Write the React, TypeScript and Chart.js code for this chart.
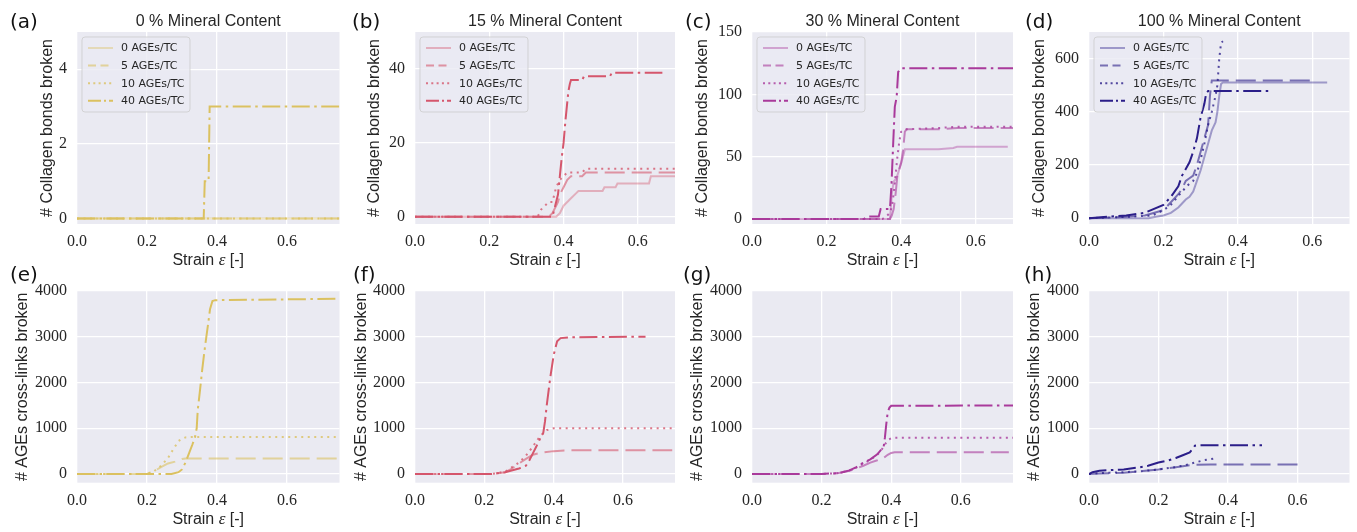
import React, { useEffect, useRef } from "react";
import { Chart, registerables } from "chart.js";
Chart.register(...registerables);

type Pt = [number, number];

// ---------- tick labels / text ----------
const xTicks = [0, 0.2, 0.4, 0.6];
const yTicksM0 = [0, 2, 4];
const yTicksM15 = [0, 20, 40];
const yTicksM30 = [0, 50, 100, 150];
const yTicksM100 = [0, 200, 400, 600];
const yTicksXlinks = [0, 1000, 2000, 3000, 4000];

const seriesLabels = ["0 AGEs/TC", "5 AGEs/TC", "10 AGEs/TC", "40 AGEs/TC"];
const mineralTitles = ["0 % Mineral Content", "15 % Mineral Content", "30 % Mineral Content", "100 % Mineral Content"];
const lettersTop = ["(a)", "(b)", "(c)", "(d)"];
const lettersBottom = ["(e)", "(f)", "(g)", "(h)"];
const yLabelTop = "# Collagen bonds broken";
const yLabelBottom = "# AGEs cross-links broken";

// ---------- data: [strain, count] ----------
// Collagen bonds broken
const bonds_m0_a0: Pt[] = [[0, 0], [0.75, 0]];
const bonds_m0_a5: Pt[] = [[0, 0], [0.75, 0]];
const bonds_m0_a10: Pt[] = [[0, 0], [0.75, 0]];
const bonds_m0_a40: Pt[] = [[0, 0], [0.362, 0], [0.365, 1], [0.376, 1], [0.379, 3], [0.75, 3]];

const bonds_m15_a0: Pt[] = [[0, 0], [0.38, 0], [0.39, 1], [0.40, 3], [0.41, 4], [0.42, 5], [0.43, 6], [0.44, 7], [0.505, 7], [0.51, 8], [0.54, 8], [0.545, 9], [0.63, 9], [0.635, 11], [0.70, 11]];
const bonds_m15_a5: Pt[] = [[0, 0], [0.36, 0], [0.37, 1], [0.38, 3], [0.385, 4], [0.39, 6], [0.40, 8], [0.41, 10], [0.42, 11], [0.45, 11], [0.46, 12], [0.74, 12]];
const bonds_m15_a10: Pt[] = [[0, 0], [0.33, 0], [0.34, 2], [0.36, 4], [0.37, 4], [0.38, 8], [0.39, 10], [0.40, 11], [0.41, 12], [0.45, 12], [0.46, 13], [0.75, 13]];
const bonds_m15_a40: Pt[] = [[0, 0], [0.37, 0], [0.375, 2], [0.38, 4], [0.385, 6], [0.39, 11], [0.395, 16], [0.40, 20], [0.405, 26], [0.41, 31], [0.413, 34], [0.417, 36], [0.42, 37], [0.45, 37], [0.455, 38], [0.525, 38], [0.53, 39], [0.666, 39]];

const bonds_m30_a0: Pt[] = [[0, 0], [0.37, 0], [0.375, 20], [0.38, 30], [0.385, 32], [0.39, 35], [0.395, 40], [0.40, 45], [0.405, 50], [0.41, 56], [0.50, 56], [0.54, 57], [0.55, 58], [0.686, 58]];
const bonds_m30_a5: Pt[] = [[0, 0], [0.37, 0], [0.375, 3], [0.38, 8], [0.385, 20], [0.39, 35], [0.395, 40], [0.40, 45], [0.405, 55], [0.41, 70], [0.415, 72], [0.50, 72], [0.55, 73], [0.74, 73]];
const bonds_m30_a10: Pt[] = [[0, 0], [0.35, 0], [0.36, 2], [0.37, 5], [0.375, 10], [0.38, 20], [0.385, 35], [0.39, 50], [0.395, 62], [0.40, 70], [0.41, 72], [0.50, 73], [0.55, 74], [0.75, 74]];
const bonds_m30_a40: Pt[] = [[0, 0], [0.30, 0], [0.31, 2], [0.34, 2], [0.345, 8], [0.37, 8], [0.374, 27], [0.379, 63], [0.383, 90], [0.388, 98], [0.392, 118], [0.40, 121], [0.75, 121]];

const bonds_m100_a0: Pt[] = [[0, 0], [0.16, 0], [0.18, 5], [0.2, 10], [0.22, 20], [0.24, 40], [0.25, 55], [0.26, 70], [0.27, 80], [0.28, 100], [0.29, 140], [0.30, 180], [0.31, 230], [0.32, 280], [0.33, 330], [0.34, 360], [0.345, 400], [0.35, 460], [0.355, 505], [0.36, 510], [0.64, 510]];
const bonds_m100_a5: Pt[] = [[0, 0], [0.1, 5], [0.15, 10], [0.2, 30], [0.22, 60], [0.24, 90], [0.25, 110], [0.26, 140], [0.27, 150], [0.28, 160], [0.29, 200], [0.30, 250], [0.31, 300], [0.32, 350], [0.325, 460], [0.33, 518], [0.61, 518]];
const bonds_m100_a10: Pt[] = [[0, 0], [0.1, 5], [0.17, 10], [0.2, 30], [0.22, 50], [0.25, 100], [0.27, 130], [0.28, 140], [0.29, 170], [0.30, 220], [0.31, 280], [0.32, 350], [0.33, 400], [0.34, 460], [0.345, 500], [0.35, 600], [0.355, 660], [0.36, 665]];
const bonds_m100_a40: Pt[] = [[0, 0], [0.05, 5], [0.1, 10], [0.15, 20], [0.2, 50], [0.22, 80], [0.24, 120], [0.25, 160], [0.27, 210], [0.28, 250], [0.29, 300], [0.30, 380], [0.31, 430], [0.315, 470], [0.32, 478], [0.49, 478]];

// AGEs cross-links broken (no AGEs cross-links exist for 0 AGEs/TC)
const xlinks_m0_a5: Pt[] = [[0, 0], [0.2, 0], [0.22, 60], [0.24, 150], [0.26, 230], [0.28, 270], [0.29, 300], [0.30, 330], [0.31, 340], [0.75, 340]];
const xlinks_m0_a10: Pt[] = [[0, 0], [0.2, 0], [0.22, 60], [0.24, 180], [0.26, 350], [0.27, 480], [0.28, 600], [0.29, 720], [0.30, 770], [0.31, 800], [0.33, 810], [0.75, 810]];
const xlinks_m0_a40: Pt[] = [[0, 0], [0.27, 0], [0.29, 40], [0.30, 100], [0.31, 250], [0.32, 450], [0.33, 650], [0.337, 800], [0.342, 1000], [0.345, 1400], [0.351, 1800], [0.358, 2300], [0.366, 2800], [0.375, 3300], [0.38, 3600], [0.387, 3780], [0.395, 3800], [0.75, 3830]];

const xlinks_m15_a5: Pt[] = [[0, 0], [0.22, 0], [0.26, 40], [0.28, 120], [0.30, 230], [0.32, 330], [0.34, 420], [0.36, 460], [0.40, 500], [0.45, 520], [0.742, 520]];
const xlinks_m15_a10: Pt[] = [[0, 0], [0.22, 0], [0.26, 50], [0.28, 150], [0.30, 250], [0.32, 400], [0.34, 600], [0.36, 820], [0.38, 960], [0.40, 1000], [0.75, 1000]];
const xlinks_m15_a40: Pt[] = [[0, 0], [0.22, 0], [0.26, 40], [0.30, 120], [0.32, 180], [0.33, 300], [0.34, 450], [0.35, 600], [0.36, 760], [0.37, 900], [0.375, 1150], [0.38, 1500], [0.39, 2100], [0.40, 2600], [0.41, 2900], [0.42, 2970], [0.45, 2990], [0.665, 3000]];

const xlinks_m30_a5: Pt[] = [[0, 0], [0.2, 0], [0.25, 20], [0.28, 70], [0.30, 120], [0.32, 180], [0.34, 250], [0.36, 300], [0.37, 330], [0.38, 360], [0.39, 420], [0.40, 460], [0.41, 475], [0.738, 475]];
const xlinks_m30_a10: Pt[] = [[0, 0], [0.2, 0], [0.25, 20], [0.28, 80], [0.30, 140], [0.32, 230], [0.34, 310], [0.36, 420], [0.37, 500], [0.38, 620], [0.39, 740], [0.40, 780], [0.41, 790], [0.75, 790]];
const xlinks_m30_a40: Pt[] = [[0, 0], [0.2, 0], [0.25, 20], [0.28, 80], [0.30, 150], [0.32, 250], [0.34, 320], [0.36, 430], [0.37, 520], [0.378, 580], [0.382, 800], [0.386, 1100], [0.39, 1350], [0.395, 1450], [0.40, 1490], [0.75, 1500]];

const xlinks_m100_a5: Pt[] = [[0, 0], [0.03, 10], [0.06, 20], [0.1, 30], [0.15, 60], [0.2, 100], [0.25, 150], [0.28, 180], [0.30, 200], [0.35, 210], [0.62, 210]];
const xlinks_m100_a10: Pt[] = [[0, 0], [0.03, 20], [0.06, 30], [0.1, 40], [0.15, 60], [0.2, 100], [0.25, 150], [0.28, 200], [0.30, 240], [0.33, 300], [0.369, 350]];
const xlinks_m100_a40: Pt[] = [[0, 0], [0.01, 40], [0.03, 70], [0.07, 90], [0.1, 100], [0.14, 140], [0.17, 180], [0.2, 250], [0.23, 300], [0.25, 350], [0.27, 410], [0.29, 470], [0.30, 560], [0.305, 620], [0.32, 630], [0.498, 630]];

// ---------- styles / layout ----------
const W = 1357;
const H = 532;
const Y_AXIS_W = 50;
const X_AXIS_H = 30;
const colLeft = [77, 415, 752, 1089];
const colRight = [339.5, 675, 1013, 1349.5];
const rowTop = [32, 291];
const rowBottom = [224, 482.7];
const yLabelXTop = [48, 375, 703, 1040];
const yLabelXBottom = [23, 362, 698, 1035];
const letterXTop = [10, 352, 685, 1025];
const letterXBottom = [10, 353, 683, 1024];
const letterBaseline = [28, 281];

const baseColors = ["#dbc160", "#d5566c", "#a93a9b", "#2b1e89"];
const alphas = [0.4, 0.6, 0.8, 1.0];
const chartDash: number[][] = [[], [20, 7], [2, 4.5], [18, 4.5, 2.5, 4.5]];
const legendDash: number[][] = [[], [8, 4.5], [2, 3.3], [13, 3, 2, 3]];
const TEXT = "#262626";

function rgba(hex: string, a: number) {
  const n = parseInt(hex.slice(1), 16);
  return `rgba(${(n >> 16) & 255},${(n >> 8) & 255},${n & 255},${a})`;
}

interface Panel {
  row: number;
  col: number;
  letter: string;
  title: string | null;
  yLabel: string;
  yLabelX: number;
  letterX: number;
  xMax: number;
  yMin: number;
  yMax: number;
  yTicks: number[];
  series: (Pt[] | null)[];
  legend: boolean;
}

const PANELS: Panel[] = [
  { row: 0, col: 0, letter: lettersTop[0], title: mineralTitles[0], yLabel: yLabelTop, yLabelX: yLabelXTop[0], letterX: letterXTop[0], xMax: 0.75, yMin: -0.15, yMax: 5, yTicks: yTicksM0, series: [bonds_m0_a0, bonds_m0_a5, bonds_m0_a10, bonds_m0_a40], legend: true },
  { row: 0, col: 1, letter: lettersTop[1], title: mineralTitles[1], yLabel: yLabelTop, yLabelX: yLabelXTop[1], letterX: letterXTop[1], xMax: 0.7, yMin: -1.95, yMax: 50, yTicks: yTicksM15, series: [bonds_m15_a0, bonds_m15_a5, bonds_m15_a10, bonds_m15_a40], legend: true },
  { row: 0, col: 2, letter: lettersTop[2], title: mineralTitles[2], yLabel: yLabelTop, yLabelX: yLabelXTop[2], letterX: letterXTop[2], xMax: 0.7, yMin: -4, yMax: 150, yTicks: yTicksM30, series: [bonds_m30_a0, bonds_m30_a5, bonds_m30_a10, bonds_m30_a40], legend: true },
  { row: 0, col: 3, letter: lettersTop[3], title: mineralTitles[3], yLabel: yLabelTop, yLabelX: yLabelXTop[3], letterX: letterXTop[3], xMax: 0.7, yMin: -22, yMax: 700, yTicks: yTicksM100, series: [bonds_m100_a0, bonds_m100_a5, bonds_m100_a10, bonds_m100_a40], legend: true },
  { row: 1, col: 0, letter: lettersBottom[0], title: null, yLabel: yLabelBottom, yLabelX: yLabelXBottom[0], letterX: letterXBottom[0], xMax: 0.75, yMin: -190, yMax: 4000, yTicks: yTicksXlinks, series: [null, xlinks_m0_a5, xlinks_m0_a10, xlinks_m0_a40], legend: false },
  { row: 1, col: 1, letter: lettersBottom[1], title: null, yLabel: yLabelBottom, yLabelX: yLabelXBottom[1], letterX: letterXBottom[1], xMax: 0.75, yMin: -190, yMax: 4000, yTicks: yTicksXlinks, series: [null, xlinks_m15_a5, xlinks_m15_a10, xlinks_m15_a40], legend: false },
  { row: 1, col: 2, letter: lettersBottom[2], title: null, yLabel: yLabelBottom, yLabelX: yLabelXBottom[2], letterX: letterXBottom[2], xMax: 0.75, yMin: -190, yMax: 4000, yTicks: yTicksXlinks, series: [null, xlinks_m30_a5, xlinks_m30_a10, xlinks_m30_a40], legend: false },
  { row: 1, col: 3, letter: lettersBottom[3], title: null, yLabel: yLabelBottom, yLabelX: yLabelXBottom[3], letterX: letterXBottom[3], xMax: 0.75, yMin: -190, yMax: 4000, yTicks: yTicksXlinks, series: [null, xlinks_m100_a5, xlinks_m100_a10, xlinks_m100_a40], legend: false },
];

function decorPlugin(p: Panel) {
  const color = baseColors[p.col];
  return {
    id: "decor",
    beforeDraw(chart: any) {
      const { ctx, chartArea: ca } = chart;
      ctx.save();
      ctx.fillStyle = "#EAEAF2";
      ctx.fillRect(ca.left, ca.top, ca.right - ca.left, ca.bottom - ca.top);
      ctx.restore();
    },
    afterDraw(chart: any) {
      const { ctx, chartArea: ca } = chart;
      ctx.save();
      // panel letter
      ctx.fillStyle = "#111";
      ctx.font = '20px "DejaVu Sans"';
      ctx.textAlign = "left";
      ctx.textBaseline = "alphabetic";
      ctx.fillText(p.letter, p.letterX, letterBaseline[p.row]);
      // title
      if (p.title) {
        ctx.fillStyle = TEXT;
        ctx.font = '16px "Liberation Sans"';
        ctx.textAlign = "center";
        ctx.fillText(p.title, (ca.left + ca.right) / 2, ca.top - 6);
      }
      // y label
      ctx.save();
      ctx.translate(p.yLabelX, (ca.top + ca.bottom) / 2);
      ctx.rotate(-Math.PI / 2);
      ctx.fillStyle = TEXT;
      ctx.font = '16px "Liberation Sans"';
      ctx.textAlign = "center";
      ctx.textBaseline = "middle";
      ctx.fillText(p.yLabel, 0, 0);
      ctx.restore();
      // x label: Strain ε [-]
      const parts: [string, string][] = [
        ["Strain ", '16px "Liberation Sans"'],
        ["ε", 'italic 17px "Liberation Serif"'],
        [" [-]", '16px "Liberation Sans"'],
      ];
      let total = 0;
      for (const [t, f] of parts) { ctx.font = f; total += ctx.measureText(t).width; }
      let x = (ca.left + ca.right) / 2 - total / 2;
      const by = ca.bottom + 41;
      ctx.textAlign = "left";
      ctx.textBaseline = "alphabetic";
      ctx.fillStyle = TEXT;
      for (const [t, f] of parts) { ctx.font = f; ctx.fillText(t, x, by); x += ctx.measureText(t).width; }
      // legend
      if (p.legend) {
        const bx = ca.left + 5, bY = ca.top + 5, bw = 108, bh = 75, r = 3;
        ctx.beginPath();
        ctx.moveTo(bx + r, bY);
        ctx.lineTo(bx + bw - r, bY);
        ctx.arcTo(bx + bw, bY, bx + bw, bY + r, r);
        ctx.lineTo(bx + bw, bY + bh - r);
        ctx.arcTo(bx + bw, bY + bh, bx + bw - r, bY + bh, r);
        ctx.lineTo(bx + r, bY + bh);
        ctx.arcTo(bx, bY + bh, bx, bY + bh - r, r);
        ctx.lineTo(bx, bY + r);
        ctx.arcTo(bx, bY, bx + r, bY, r);
        ctx.closePath();
        ctx.fillStyle = "rgba(234,234,242,0.8)";
        ctx.fill();
        ctx.strokeStyle = "rgba(204,204,204,0.8)";
        ctx.lineWidth = 1;
        ctx.stroke();
        for (let k = 0; k < seriesLabels.length; k++) {
          const yy = ca.top + 16 + k * 17.6;
          ctx.beginPath();
          ctx.setLineDash(legendDash[k]);
          ctx.strokeStyle = rgba(color, alphas[k]);
          ctx.lineWidth = 2;
          ctx.moveTo(ca.left + 11, yy);
          ctx.lineTo(ca.left + 36, yy);
          ctx.stroke();
          ctx.setLineDash([]);
          ctx.fillStyle = TEXT;
          ctx.font = '11px "DejaVu Sans"';
          ctx.textBaseline = "middle";
          ctx.fillText(seriesLabels[k], ca.left + 44, yy + 0.5);
        }
      }
      ctx.restore();
    },
  };
}

function makeConfig(p: Panel): any {
  const color = baseColors[p.col];
  const left = colLeft[p.col], right = colRight[p.col];
  const top = rowTop[p.row], bottom = rowBottom[p.row];
  const tickFont = { family: '"Liberation Serif"', size: 16 };
  const datasets: any[] = [];
  p.series.forEach((pts, k) => {
    if (!pts) return;
    datasets.push({
      label: seriesLabels[k],
      data: pts.map(([x, y]) => ({ x, y })),
      borderColor: rgba(color, alphas[k]),
      backgroundColor: rgba(color, alphas[k]),
      borderWidth: 2,
      borderDash: chartDash[k],
      pointRadius: 0,
      tension: 0,
      fill: false,
      order: 3 - k,
    });
  });
  return {
    type: "line",
    data: { datasets },
    options: {
      responsive: false,
      animation: false,
      devicePixelRatio: 1,
      events: [],
      layout: {
        padding: { left: left - Y_AXIS_W, top: top, right: W - right, bottom: H - bottom - X_AXIS_H },
      },
      plugins: { legend: { display: false }, tooltip: { enabled: false }, title: { display: false } },
      scales: {
        x: {
          type: "linear",
          min: 0,
          max: p.xMax,
          afterBuildTicks: (s: any) => { s.ticks = xTicks.map((v) => ({ value: v })); },
          afterFit: (s: any) => { s.height = X_AXIS_H; },
          ticks: { callback: (v: any) => Number(v).toFixed(1), font: tickFont, color: TEXT, padding: 8, maxRotation: 0, autoSkip: false },
          grid: { color: "#ffffff", lineWidth: 1.3, drawTicks: false },
          border: { display: false },
        },
        y: {
          type: "linear",
          min: p.yMin,
          max: p.yMax,
          afterBuildTicks: (s: any) => { s.ticks = p.yTicks.map((v) => ({ value: v })); },
          afterFit: (s: any) => { s.width = Y_AXIS_W; },
          ticks: { callback: (v: any) => String(v), font: tickFont, color: TEXT, padding: 10, autoSkip: false },
          grid: { color: "#ffffff", lineWidth: 1.3, drawTicks: false },
          border: { display: false },
        },
      },
    },
    plugins: [decorPlugin(p)],
  };
}

function PanelChart({ panel }: { panel: Panel }) {
  const ref = useRef<HTMLCanvasElement>(null);
  useEffect(() => {
    if (!ref.current) return;
    const chart = new Chart(ref.current, makeConfig(panel));
    return () => chart.destroy();
  }, [panel]);
  return (
    <canvas
      ref={ref}
      width={W}
      height={H}
      style={{ position: "absolute", left: 0, top: 0, width: W, height: H }}
    />
  );
}

export default function App() {
  return (
    <div style={{ position: "absolute", left: 0, top: 0, width: W, height: H, background: "#ffffff" }}>
      {PANELS.map((p, i) => (
        <PanelChart key={i} panel={p} />
      ))}
    </div>
  );
}
